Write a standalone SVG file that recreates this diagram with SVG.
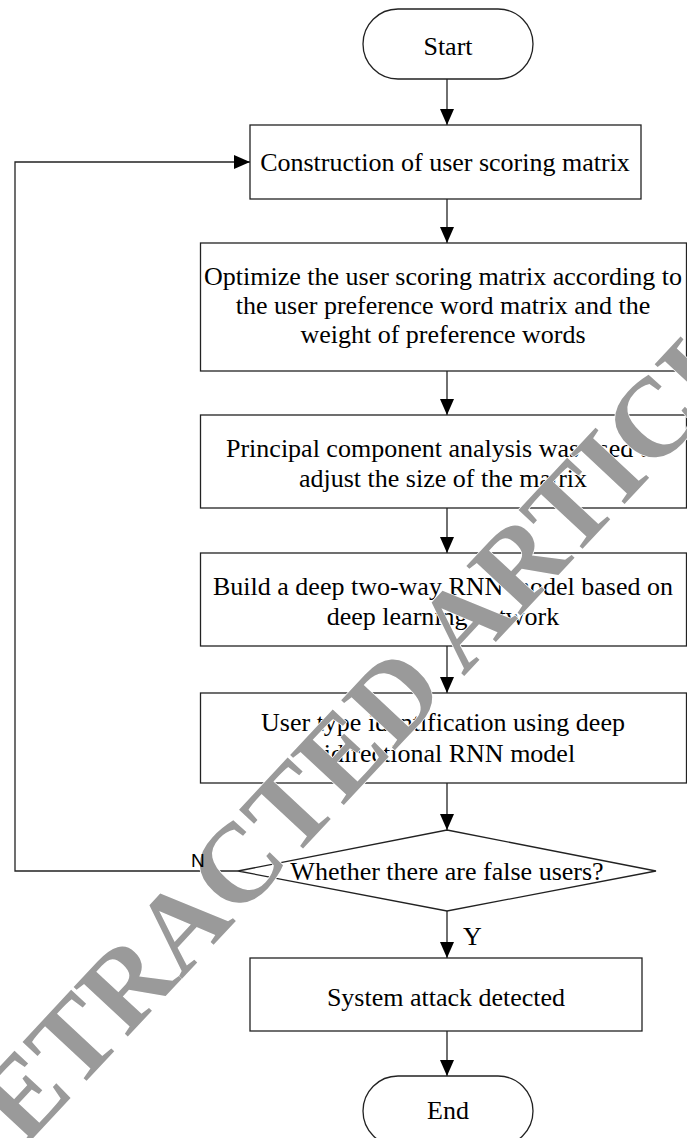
<svg xmlns="http://www.w3.org/2000/svg" width="687" height="1138" viewBox="0 0 687 1138">
<style>
.box{fill:#fff;stroke:#222;stroke-width:1.3}
.ln{fill:none;stroke:#222;stroke-width:1.3}
.t{font-family:"Liberation Serif","Times New Roman",serif;font-size:26px;fill:#000;text-anchor:middle}
.wm{font-family:"Liberation Serif","Times New Roman",serif;font-size:112px;font-weight:bold;fill:#9a9a9a;stroke:#fff;stroke-width:1.5;paint-order:stroke}
</style>
<defs>
<marker id="ah" viewBox="0 0 16 14" refX="16" refY="7" markerWidth="16" markerHeight="14" markerUnits="userSpaceOnUse" orient="auto">
<path d="M0,0 L16,7 L0,14 Z" fill="#000"/>
</marker>
</defs>
<rect width="687" height="1138" fill="#fff"/>
<g id="connectors">
<line class="ln" x1="447" y1="79" x2="447" y2="125" marker-end="url(#ah)"/>
<line class="ln" x1="447" y1="199" x2="447" y2="243" marker-end="url(#ah)"/>
<line class="ln" x1="447" y1="371" x2="447" y2="415" marker-end="url(#ah)"/>
<line class="ln" x1="447" y1="508" x2="447" y2="553" marker-end="url(#ah)"/>
<line class="ln" x1="447" y1="646" x2="447" y2="693" marker-end="url(#ah)"/>
<line class="ln" x1="447" y1="783" x2="447" y2="830" marker-end="url(#ah)"/>
<line class="ln" x1="447" y1="911" x2="447" y2="958" marker-end="url(#ah)"/>
<line class="ln" x1="447" y1="1031" x2="447" y2="1076" marker-end="url(#ah)"/>
<polyline class="ln" points="238,871 15,871 15,162 250,162" marker-end="url(#ah)"/>
</g>
<g id="start">
<rect class="box" x="363" y="9" width="170" height="70" rx="35" ry="35"/>
<text class="t" x="448" y="55">Start</text>
</g>
<g id="construct">
<rect class="box" x="250" y="125" width="391" height="74"/>
<text class="t" x="445" y="171">Construction of user scoring matrix</text>
</g>
<g id="optimize">
<rect class="box" x="200.5" y="243" width="486" height="128"/>
<text class="t" x="443" y="285">Optimize the user scoring matrix according to</text>
<text class="t" x="443" y="314">the user preference word matrix and the</text>
<text class="t" x="443" y="343">weight of preference words</text>
</g>
<g id="pca">
<rect class="box" x="200.5" y="415" width="486" height="93"/>
<text class="t" x="443" y="457">Principal component analysis was used to</text>
<text class="t" x="443" y="487">adjust the size of the matrix</text>
</g>
<g id="build">
<rect class="box" x="200.5" y="553" width="486" height="93"/>
<text class="t" x="443" y="595">Build a deep two-way RNN model based on</text>
<text class="t" x="443" y="625">deep learning network</text>
</g>
<g id="usertype">
<rect class="box" x="200.5" y="693" width="486" height="90"/>
<text class="t" x="443" y="731">User type identification using deep</text>
<text class="t" x="443" y="762">bidirectional RNN model</text>
</g>
<g id="decision">
<polygon class="box" points="447,830 656,871 447,911 238,871"/>
<text class="t" x="447" y="880">Whether there are false users?</text>
</g>
<g id="attack">
<rect class="box" x="250" y="958" width="392" height="73"/>
<text class="t" x="446" y="1006">System attack detected</text>
</g>
<g id="end">
<rect class="box" x="363" y="1076" width="170" height="70" rx="35" ry="35"/>
<text class="t" x="448" y="1119">End</text>
</g>
<g id="watermark">
<text class="wm" transform="translate(-31,1207) rotate(-47)">RETRACTED ARTICLE</text>
</g>
<g id="labels">
<text x="191" y="867" style="font-family:'Liberation Sans',Arial,sans-serif;font-size:19px;fill:#000">N</text>
<text x="463" y="945" style="font-family:'Liberation Serif','Times New Roman',serif;font-size:26px;fill:#000">Y</text>
</g>
</svg>
